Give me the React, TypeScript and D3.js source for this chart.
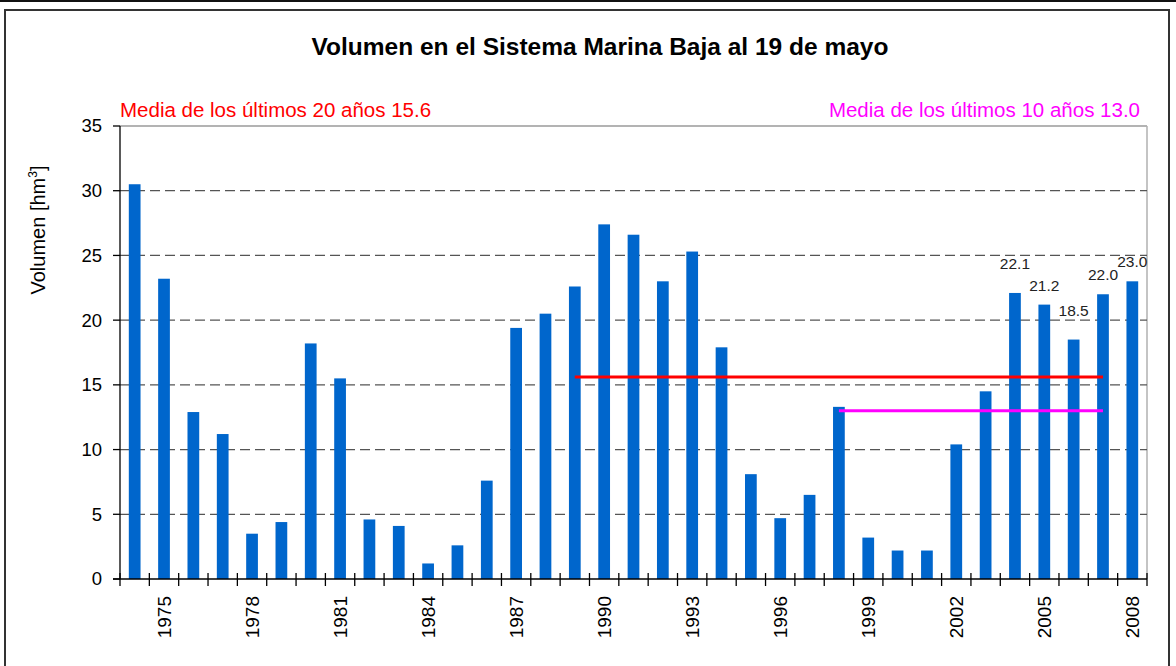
import React, { useEffect, useRef } from 'react';
import * as d3 from 'd3';

const years = d3.range(1974, 2009);
const volumes = [
  30.5, 23.2, 12.9, 11.2, 3.5, 4.4, 18.2, 15.5, 4.6, 4.1,
  1.2, 2.6, 7.6, 19.4, 20.5, 22.6, 27.4, 26.6, 23.0, 25.3,
  17.9, 8.1, 4.7, 6.5, 13.3, 3.2, 2.2, 2.2, 10.4, 14.5,
  22.1, 21.2, 18.5, 22.0, 23.0,
];
const tickYears = [1975, 1978, 1981, 1984, 1987, 1990, 1993, 1996, 1999, 2002, 2005, 2008];
const yTicks = [0, 5, 10, 15, 20, 25, 30, 35];
const labelledYears = [2004, 2005, 2006, 2007, 2008];
// mean lines: from year, to year, value
const mean20 = { from: 1989, to: 2007, value: 15.6 };
const mean10 = { from: 1998, to: 2007, value: 13.0 };

const W = 1176;
const H = 666;
const FONT = '"Liberation Sans", Arial, sans-serif';

export default function App() {
  const svgRef = useRef<SVGSVGElement>(null);

  useEffect(() => {
    if (!svgRef.current) return;
    const svg = d3.select(svgRef.current);
    svg.selectAll('*').remove();

    const margin = { top: 126, right: 29, bottom: 87, left: 120 };
    const innerW = W - margin.left - margin.right;
    const innerH = H - margin.top - margin.bottom;

    // frame
    svg.append('rect').attr('x', 0).attr('y', 0).attr('width', W).attr('height', H).attr('fill', '#fff');
    svg.append('line').attr('x1', 0).attr('x2', W).attr('y1', 1).attr('y2', 1)
      .attr('stroke', '#111').attr('stroke-width', 2);
    svg.append('rect').attr('x', 5).attr('y', 10).attr('width', 1164).attr('height', 700)
      .attr('fill', 'none').attr('stroke', '#333').attr('stroke-width', 2);

    svg.append('text')
      .attr('x', 600).attr('y', 55)
      .attr('text-anchor', 'middle')
      .style('font-family', FONT).style('font-weight', 'bold').style('font-size', '24.5px')
      .attr('fill', '#000')
      .text('Volumen en el Sistema Marina Baja al 19 de mayo');

    const g = svg.append('g').attr('transform', `translate(${margin.left},${margin.top})`);

    const x = d3.scaleBand<number>().domain(years).range([0, innerW]).padding(0);
    const y = d3.scaleLinear().domain([0, 35]).range([innerH, 0]);
    const bw = x.bandwidth();
    const barW = bw * 0.4;
    const cx = (yr: number) => (x(yr) ?? 0) + bw / 2;

    // plot border (top + right)
    g.append('line').attr('x1', 0).attr('x2', innerW).attr('y1', 0).attr('y2', 0)
      .attr('stroke', '#9a9a9a').attr('stroke-width', 1.5);
    g.append('line').attr('x1', innerW).attr('x2', innerW).attr('y1', 0).attr('y2', innerH)
      .attr('stroke', '#b0b0b0').attr('stroke-width', 1.5);

    // gridlines
    g.selectAll('.grid')
      .data(yTicks.filter(t => t > 0 && t < 35))
      .enter().append('line')
      .attr('x1', 0).attr('x2', innerW)
      .attr('y1', d => y(d)).attr('y2', d => y(d))
      .attr('stroke', '#555').attr('stroke-width', 1.2)
      .attr('stroke-dasharray', '10,5');

    // bars
    g.selectAll('.bar')
      .data(years.map((yr, i) => ({ yr, v: volumes[i] })))
      .enter().append('rect')
      .attr('x', d => cx(d.yr) - barW / 2)
      .attr('width', barW)
      .attr('y', d => y(d.v))
      .attr('height', d => innerH - y(d.v))
      .attr('fill', '#0066CC');

    // mean lines
    g.append('line')
      .attr('x1', cx(mean20.from)).attr('x2', cx(mean20.to))
      .attr('y1', y(mean20.value)).attr('y2', y(mean20.value))
      .attr('stroke', '#FF0000').attr('stroke-width', 3);
    g.append('line')
      .attr('x1', cx(mean10.from)).attr('x2', cx(mean10.to))
      .attr('y1', y(mean10.value)).attr('y2', y(mean10.value))
      .attr('stroke', '#FF00FF').attr('stroke-width', 3);

    // data labels
    const labelGap = [24, 14, 24, 14, 14];
    labelledYears.forEach((yr, i) => {
      const v = volumes[years.indexOf(yr)];
      g.append('text')
        .attr('x', cx(yr)).attr('y', y(v) - labelGap[i])
        .attr('text-anchor', 'middle')
        .style('font-family', FONT).style('font-size', '15.5px')
        .attr('fill', '#222')
        .text(v.toFixed(1));
    });

    // mean labels
    g.append('text')
      .attr('x', 0).attr('y', -9)
      .style('font-family', FONT).style('font-size', '20.5px')
      .attr('fill', '#FF0000')
      .text(`Media de los últimos 20 años ${mean20.value.toFixed(1)}`);
    g.append('text')
      .attr('x', innerW - 7).attr('y', -9)
      .attr('text-anchor', 'end')
      .style('font-family', FONT).style('font-size', '20.5px')
      .attr('fill', '#FF00FF')
      .text(`Media de los últimos 10 años ${mean10.value.toFixed(1)}`);

    // y axis
    g.append('line').attr('x1', 0).attr('x2', 0).attr('y1', 0).attr('y2', innerH)
      .attr('stroke', '#000').attr('stroke-width', 1.3);
    yTicks.forEach(t => {
      g.append('line').attr('x1', -7).attr('x2', 0).attr('y1', y(t)).attr('y2', y(t))
        .attr('stroke', '#000').attr('stroke-width', 1.3);
      g.append('text')
        .attr('x', -18).attr('y', y(t)).attr('dy', '0.35em')
        .attr('text-anchor', 'end')
        .style('font-family', FONT).style('font-size', '18.5px')
        .attr('fill', '#000')
        .text(t);
    });

    // x axis
    g.append('line').attr('x1', -7).attr('x2', innerW).attr('y1', innerH).attr('y2', innerH)
      .attr('stroke', '#000').attr('stroke-width', 1.3);
    const bounds = years.map(yr => x(yr) ?? 0).concat([innerW]);
    g.selectAll('.xtick')
      .data(bounds)
      .enter().append('line')
      .attr('x1', d => d).attr('x2', d => d)
      .attr('y1', innerH - 6).attr('y2', innerH + 7)
      .attr('stroke', '#000').attr('stroke-width', 1.3);
    tickYears.forEach(yr => {
      g.append('text')
        .attr('transform', `translate(${cx(yr)},${innerH + 17}) rotate(-90)`)
        .attr('text-anchor', 'end')
        .attr('dy', '0.35em')
        .style('font-family', FONT).style('font-size', '19px')
        .attr('fill', '#000')
        .text(yr);
    });

    // y label
    const yl = svg.append('text')
      .attr('transform', `translate(45,230) rotate(-90)`)
      .attr('text-anchor', 'middle')
      .style('font-family', FONT).style('font-size', '20px')
      .attr('fill', '#000');
    yl.append('tspan').text('Volumen [hm');
    yl.append('tspan').attr('dy', -8).style('font-size', '12px').text('3');
    yl.append('tspan').attr('dy', 8).text(']');
  }, []);

  return (
    <svg
      ref={svgRef}
      width={W}
      height={H}
      style={{ position: 'absolute', left: 0, top: 0, display: 'block' }}
    />
  );
}
